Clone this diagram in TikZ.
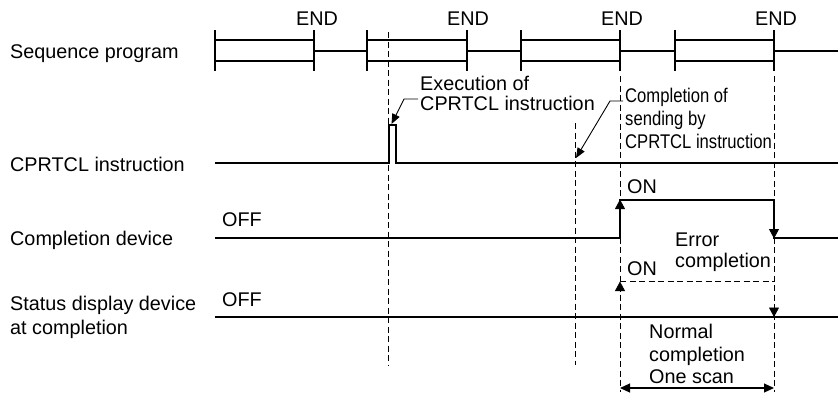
\documentclass[tikz,border=0pt]{standalone}
\usepackage{fontspec}
\setmainfont{Liberation Sans}
\newfontfamily\narrowfont[FakeStretch=0.84]{Liberation Sans}
\usetikzlibrary{arrows.meta}
\begin{document}
\begin{tikzpicture}[x=1pt,y=-1pt,
 lbl/.style={anchor=base west, inner sep=0pt, font=\fontsize{19.8}{22}\selectfont},
 nlbl/.style={anchor=base west, inner sep=0pt, font=\narrowfont\fontsize{19.8}{22}\selectfont},
 endlbl/.style={anchor=base, inner sep=0pt, font=\fontsize{19.8}{22}\selectfont},
 sig/.style={line width=2.9pt},
 sigthin/.style={line width=2.5pt},
 guide/.style={line width=1pt, dash pattern=on 6pt off 3.5pt},
 head/.style={line width=0.8pt, -{Triangle[length=9.5pt,width=10pt]}},
 lead/.style={line width=0.9pt, -{Triangle[length=10pt,width=8pt]}},
 span/.style={line width=1.1pt, {Triangle[length=10pt,width=9pt]}-{Triangle[length=10pt,width=9pt]}},
]
\useasboundingbox (0,0) rectangle (838,394);

% left labels
\node[lbl] (lseq) at (10,58) {Sequence program};
\node[lbl] (lcpr) at (10,171) {CPRTCL instruction};
\node[lbl] (lcomp) at (10,245) {Completion device};
\node[lbl] (lstat1) at (10,310) {Status display device};
\node[lbl] (lstat2) at (10,334) {at completion};

% END labels
\node[endlbl] (e1) at (317,25) {END};
\node[endlbl] (e2) at (468,25) {END};
\node[endlbl] (e3) at (622,25) {END};
\node[endlbl] (e4) at (776,25) {END};

% dashed guides
\draw[guide] (388,32) -- (388,365);
\draw[guide] (575,123) -- (575,365);
\draw[guide] (620,76) -- (620,392);
\draw[guide] (774,76) -- (774,392);

% sequence program scans
\foreach \a/\b in {215/314,367/467,521/620,675/774}{
  \draw[sig] (\a,40) -- (\b,40);
  \draw[sig] (\a,61) -- (\b,61);
  \draw[sig] (\a,30) -- (\a,71);
  \draw[sig] (\b,30) -- (\b,71);
}
\foreach \a/\b in {314/367,467/521,620/675,774/838}{
  \draw[sig] (\a,51) -- (\b,51);
}

% CPRTCL instruction
\draw[sigthin] (215,163) -- (389,163) -- (389,125) -- (396,125) -- (396,163) -- (838,163);

\node[lbl] (ex1) at (420,90) {Execution of};
\node[lbl] (ex2) at (420,110) {CPRTCL instruction};
\draw[lead] (418,99) -- (404,99) -- (391.5,124);

\node[nlbl] (cs1) at (625,102) {Completion of};
\node[nlbl] (cs2) at (625,125) {sending by};
\node[nlbl] (cs3) at (625,148) {CPRTCL instruction};
\draw[lead] (623,101) -- (610,101) -- (576,158);

% completion device
\draw[sig] (215,238) -- (620,238) -- (620,200) -- (774,200) -- (774,238) -- (838,238);
\draw[head] (620,210) -- (620,199.5);
\draw[head] (774,228) -- (774,238.5);
\node[lbl] (off1) at (222,226) {OFF};
\node[lbl] (on1) at (627,193) {ON};
\node[lbl] (err1) at (675,246) {Error};
\node[lbl] (err2) at (675,267) {completion};

% status display device
\draw[sig] (215,317) -- (838,317);
\draw[guide] (620,281) -- (774,281);
\draw[head] (620,291) -- (620,281.5);
\draw[head] (774,307) -- (774,317);
\node[lbl] (off2) at (222,306) {OFF};
\node[lbl] (on2) at (627,275) {ON};
\node[lbl] (nc1) at (649,338) {Normal};
\node[lbl] (nc2) at (649,361) {completion};
\node[lbl] (nc3) at (649,383) {One scan};
\draw[span] (620,388) -- (774,388);
\end{tikzpicture}
\end{document}
